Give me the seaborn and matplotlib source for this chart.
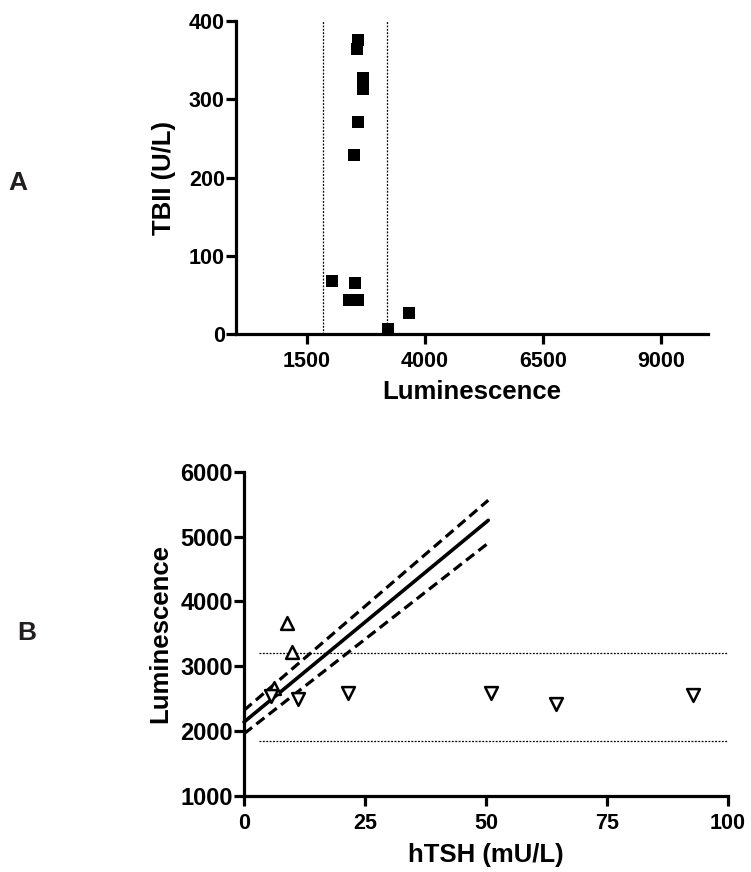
import matplotlib
matplotlib.use('Agg')
import matplotlib.pyplot as plt
import seaborn as sns
import pandas as pd

# ---------------- Panel A data ----------------
lum_a = [2590, 2565, 2700, 2685, 2595, 2490, 2030, 2530, 2390, 2580, 3660, 3215]
tbii_a = [376, 364, 327, 313, 271, 229, 68, 66, 44, 44, 27, 7]
ref_lum = [1850, 3200]
a_xticks = [1500, 4000, 6500, 9000]
a_yticks = [0, 100, 200, 300, 400]

# ---------------- Panel B data ----------------
htsh_up = [8.8, 9.9, 6.3]
lum_up = [3660, 3220, 2660]
htsh_down = [5.5, 11.1, 21.4, 51.0, 64.4, 92.9]
lum_down = [2540, 2500, 2595, 2590, 2425, 2555]
fit_x = [0, 50.5]
fit_y = [2140, 5250]
ci_hi = [2320, 5560]
ci_lo = [1960, 4900]
ref_x = [3, 100]
b_xticks = [0, 25, 50, 75, 100]
b_yticks = [1000, 2000, 3000, 4000, 5000, 6000]

sns.set_style('ticks')
plt.rcParams['font.family'] = ['Liberation Sans', 'DejaVu Sans']
plt.rcParams['font.weight'] = 'bold'
plt.rcParams['axes.labelweight'] = 'bold'
for k in ('text.color', 'axes.labelcolor', 'xtick.color', 'ytick.color',
          'xtick.labelcolor', 'ytick.labelcolor'):
    plt.rcParams[k] = 'black'

W, H = 751, 872
fig = plt.figure(figsize=(W / 100, H / 100), dpi=100)

def axes_px(x0, x1, ytop, ybot):
    return fig.add_axes([x0 / W, (H - ybot) / H, (x1 - x0) / W, (ybot - ytop) / H])

def style_axes(ax):
    sns.despine(ax=ax)
    for s in ('left', 'bottom'):
        ax.spines[s].set_linewidth(2.3)
        ax.spines[s].set_color('black')
    ax.tick_params(axis='both', which='major', length=7, width=2.3, color='black',
                   labelcolor='black', direction='out')

# ---------------- Panel A ----------------
axA = axes_px(236, 708, 20.7, 334.5)
dfA = pd.DataFrame({'Luminescence': lum_a, 'TBII': tbii_a})
axA.vlines(ref_lum, 0, 400, colors='black', linewidth=0.9, linestyles=(0, (1.5, 1.2)), zorder=1)
sns.scatterplot(data=dfA, x='Luminescence', y='TBII', ax=axA, marker='s', s=70,
                color='black', edgecolor='black', linewidth=0, zorder=3, clip_on=False)
axA.set_xlim(0, 10000)
axA.set_ylim(0, 400)
axA.set_xticks(a_xticks)
axA.set_yticks(a_yticks)
style_axes(axA)
axA.tick_params(axis='x', labelsize=15.5, pad=5)
axA.tick_params(axis='y', labelsize=15.5, pad=1)
axA.set_xlabel('Luminescence', fontsize=18.5, labelpad=6, color='black')
axA.set_ylabel('TBII (U/L)', fontsize=18.5, labelpad=9, color='black')

# ---------------- Panel B ----------------
axB = axes_px(244, 727.7, 471.7, 796)
axB.hlines(ref_lum, ref_x[0], ref_x[1], colors='black', linewidth=0.9,
           linestyles=(0, (1.5, 1.2)), zorder=1)
sns.lineplot(x=fit_x, y=fit_y, ax=axB, color='black', linewidth=2.6, estimator=None,
             zorder=2, clip_on=False)
sns.lineplot(x=fit_x, y=ci_hi, ax=axB, color='black', linewidth=2.3, estimator=None,
             linestyle=(0, (3.2, 1.7)), zorder=2, clip_on=False)
sns.lineplot(x=fit_x, y=ci_lo, ax=axB, color='black', linewidth=2.3, estimator=None,
             linestyle=(0, (3.2, 1.7)), zorder=2, clip_on=False)
sns.scatterplot(x=htsh_up, y=lum_up, ax=axB, marker='^', s=85, facecolor='white',
                edgecolor='black', linewidth=1.8, zorder=3)
sns.scatterplot(x=htsh_down, y=lum_down, ax=axB, marker='v', s=85, facecolor='white',
                edgecolor='black', linewidth=1.8, zorder=3)
axB.set_xlim(0, 100)
axB.set_ylim(1000, 6000)
axB.set_xticks(b_xticks)
axB.set_yticks(b_yticks)
style_axes(axB)
axB.tick_params(axis='x', labelsize=15.5, pad=5)
axB.tick_params(axis='y', labelsize=17, pad=1)
axB.set_xlabel('hTSH (mU/L)', fontsize=18.5, labelpad=7, color='black')
axB.set_ylabel('Luminescence', fontsize=18.5, labelpad=6, color='black')

# Panel letters
fig.text(18 / W, 1 - 183 / H, 'A', fontsize=19, fontweight='bold', color='#231f20',
         ha='center', va='center')
fig.text(27 / W, 1 - 633 / H, 'B', fontsize=19, fontweight='bold', color='#231f20',
         ha='center', va='center')

fig.savefig('out.png', dpi=100)
